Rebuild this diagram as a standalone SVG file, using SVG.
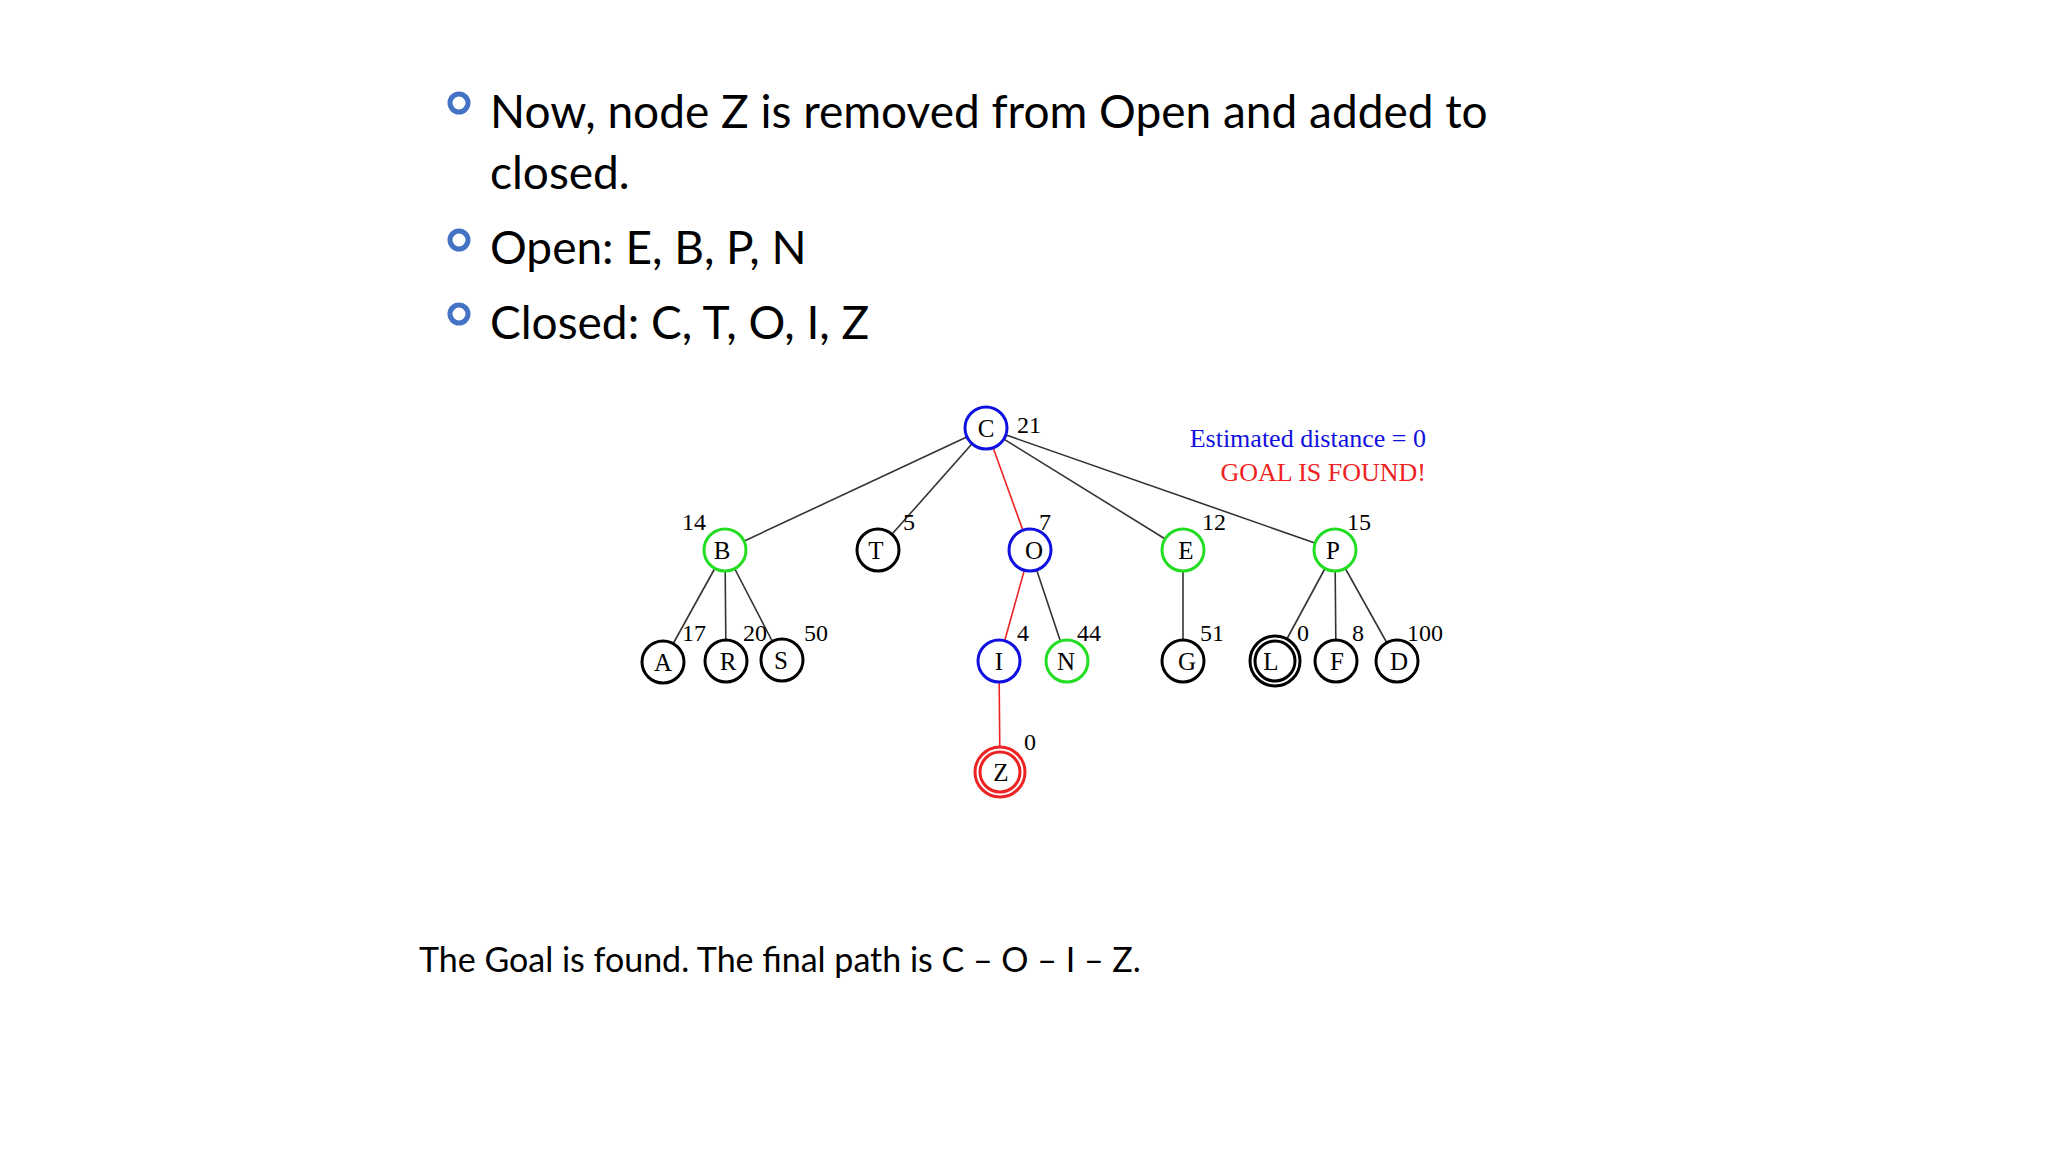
<svg xmlns="http://www.w3.org/2000/svg" width="2048" height="1152" viewBox="0 0 2048 1152">
<style>
.bt{font-family:Lato,"Open Sans",sans-serif;font-size:46px;fill:#000}
.nd{fill:#fff;stroke-width:3}
.nl{font-family:"Liberation Serif",serif;font-size:25px;text-anchor:middle;fill:#000}
.nm{font-family:"Liberation Serif",serif;font-size:24px;fill:#000}
.e{stroke:#333;stroke-width:1.6;fill:none}
.r{stroke:#e22;stroke-width:1.6;fill:none}
</style>
<rect width="2048" height="1152" fill="#fff"/>
<g id="bullets">
<circle cx="459" cy="103" r="9" fill="none" stroke="#4472c4" stroke-width="5"/>
<circle cx="459" cy="240" r="9" fill="none" stroke="#4472c4" stroke-width="5"/>
<circle cx="459" cy="314" r="9" fill="none" stroke="#4472c4" stroke-width="5"/>
<text class="bt" x="490" y="128">Now, node Z is removed from Open and added to</text>
<text class="bt" x="490" y="189">closed.</text>
<text class="bt" x="490" y="264">Open: E, B, P, N</text>
<text class="bt" x="490" y="339">Closed: C, T, O, I, Z</text>
<text x="419" y="972" style="font-family:Lato,sans-serif;font-size:34px">The Goal is found. The final path is C – O – I – Z.</text>
</g>
<g id="connectors">
<line class="e" x1="986" y1="428" x2="725" y2="550"/>
<line class="e" x1="986" y1="428" x2="878" y2="550"/>
<line class="r" x1="986" y1="428" x2="1030" y2="550"/>
<line class="e" x1="986" y1="428" x2="1183" y2="550"/>
<line class="e" x1="986" y1="428" x2="1335" y2="550"/>
<line class="e" x1="725" y1="550" x2="663" y2="662"/>
<line class="e" x1="725" y1="550" x2="726" y2="661"/>
<line class="e" x1="725" y1="550" x2="782" y2="660"/>
<line class="r" x1="1030" y1="550" x2="999" y2="661"/>
<line class="e" x1="1030" y1="550" x2="1067" y2="661"/>
<line class="e" x1="1183" y1="550" x2="1183" y2="661"/>
<line class="e" x1="1335" y1="550" x2="1275" y2="661"/>
<line class="e" x1="1335" y1="550" x2="1336" y2="661"/>
<line class="e" x1="1335" y1="550" x2="1397" y2="661"/>
<line class="r" x1="999" y1="661" x2="1000" y2="772"/>
</g>
<g id="C"><circle class="nd" cx="986" cy="428" r="21" stroke="#1010e0"/><text class="nl" x="986" y="437">C</text><text class="nm" x="1017" y="433">21</text></g>
<g id="B"><circle class="nd" cx="725" cy="550" r="21" stroke="#22dd22"/><text class="nl" x="722" y="559">B</text><text class="nm" x="682" y="530">14</text></g>
<g id="T"><circle class="nd" cx="878" cy="550" r="21" stroke="#000"/><text class="nl" x="876" y="559">T</text><text class="nm" x="903" y="530">5</text></g>
<g id="O"><circle class="nd" cx="1030" cy="550" r="21" stroke="#1010e0"/><text class="nl" x="1034" y="559">O</text><text class="nm" x="1039" y="530">7</text></g>
<g id="E"><circle class="nd" cx="1183" cy="550" r="21" stroke="#22dd22"/><text class="nl" x="1186" y="559">E</text><text class="nm" x="1202" y="530">12</text></g>
<g id="P"><circle class="nd" cx="1335" cy="550" r="21" stroke="#22dd22"/><text class="nl" x="1333" y="559">P</text><text class="nm" x="1347" y="530">15</text></g>
<g id="A"><circle class="nd" cx="663" cy="662" r="21" stroke="#000"/><text class="nl" x="663" y="671">A</text><text class="nm" x="682" y="641">17</text></g>
<g id="R"><circle class="nd" cx="726" cy="661" r="21" stroke="#000"/><text class="nl" x="728" y="670">R</text><text class="nm" x="743" y="641">20</text></g>
<g id="S"><circle class="nd" cx="782" cy="660" r="21" stroke="#000"/><text class="nl" x="781" y="669">S</text><text class="nm" x="804" y="641">50</text></g>
<g id="I"><circle class="nd" cx="999" cy="661" r="21" stroke="#1010e0"/><text class="nl" x="999" y="670">I</text><text class="nm" x="1017" y="641">4</text></g>
<g id="N"><circle class="nd" cx="1067" cy="661" r="21" stroke="#22dd22"/><text class="nl" x="1066" y="670">N</text><text class="nm" x="1077" y="641">44</text></g>
<g id="G"><circle class="nd" cx="1183" cy="661" r="21" stroke="#000"/><text class="nl" x="1187" y="670">G</text><text class="nm" x="1200" y="641">51</text></g>
<g id="L"><circle class="nd" cx="1275" cy="661" r="25" stroke="#000"/><circle cx="1275" cy="661" r="20" fill="none" stroke="#000" stroke-width="3"/><text class="nl" x="1271" y="670">L</text><text class="nm" x="1297" y="641">0</text></g>
<g id="F"><circle class="nd" cx="1336" cy="661" r="21" stroke="#000"/><text class="nl" x="1337" y="670">F</text><text class="nm" x="1352" y="641">8</text></g>
<g id="D"><circle class="nd" cx="1397" cy="661" r="21" stroke="#000"/><text class="nl" x="1399" y="670">D</text><text class="nm" x="1407" y="641">100</text></g>
<g id="Z"><circle class="nd" cx="1000" cy="772" r="25" stroke="#e22"/><circle cx="1000" cy="772" r="20" fill="none" stroke="#e22" stroke-width="3"/><text class="nl" x="1001" y="781">Z</text><text class="nm" x="1024" y="750">0</text></g>
<g id="caption">
<text x="1426" y="447" text-anchor="end" style="font-family:'Liberation Serif',serif;font-size:26px;fill:#1010e0">Estimated distance = 0</text>
<text x="1426" y="481" text-anchor="end" style="font-family:'Liberation Serif',serif;font-size:26px;fill:#e22">GOAL IS FOUND!</text>
</g>
</svg>
